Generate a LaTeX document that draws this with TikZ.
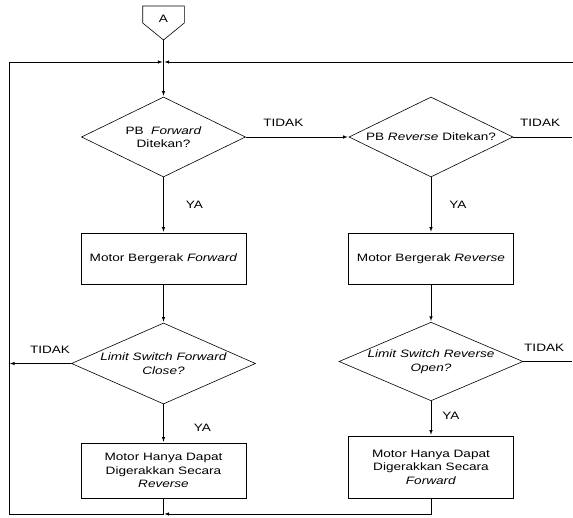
\documentclass[tikz,border=0pt]{standalone}
\usepackage{fontspec}
\setmainfont{Liberation Sans}[FakeStretch=1.27]
\usepackage{tikz}
\usetikzlibrary{shapes.geometric}
\usetikzlibrary{arrows}
\usetikzlibrary{positioning}

\begin{document}
\begin{tikzpicture}[x=1pt,y=-1pt,>=latex,shorten >=1pt,line width=0.6pt,on grid,auto,
	     every node/.style={font=\fontsize{10.7}{13.5}\selectfont},
	     decision/.style={diamond,draw,inner sep=0pt,shape aspect=2.3,align=center},
	     process/.style={rectangle,draw,minimum width=165pt,align=center}]
	     \useasboundingbox (0,0) rectangle (573,518);

	     % konektor A
	     \draw (142.7,6) -- (184.3,6) -- (184.3,23) -- (163.5,40) -- (142.7,23) -- cycle;
	     \node (A) at (163.5,19) {A};
	     \coordinate (Atip) at (163.5,40);

	     \node[decision, minimum width=164pt, minimum height=80pt] (pbf) at (163.5,137) {PB~~\textit{Forward}\\Ditekan?};
	     \node[decision, minimum width=164pt, minimum height=80pt] (pbr) [right=267.5pt of pbf] {PB \textit{Reverse} Ditekan?};
	     \node[process, minimum height=51pt] (motf) [below=121.5pt of pbf] {Motor Bergerak \textit{Forward}};
	     \node[process, minimum height=51pt] (motr) [below=121.5pt of pbr] {Motor Bergerak \textit{Reverse}};
	     \node[decision, minimum width=184pt, minimum height=81pt] (lsf) [below=105pt of motf] {\textit{Limit Switch Forward}\\\textit{Close?}};
	     \node[decision, minimum width=184pt, minimum height=76pt] (lsr) [below=103pt of motr] {\textit{Limit Switch Reverse}\\\textit{Open?}};
	     \node[process, minimum height=55pt] (onlyr) [below=107pt of lsf] {Motor Hanya Dapat\\Digerakkan Secara\\\textit{Reverse}};
	     \node[process, minimum height=62pt] (onlyf) [below=105.5pt of lsr] {Motor Hanya Dapat\\Digerakkan Secara\\\textit{Forward}};

	     \coordinate (merge) at (163.5,62);
	     \coordinate (topL) at (9,62);
	     \coordinate (topR) at (573,62);
	     \coordinate (botL) at (9,514);
	     \coordinate (join) at (163.5,514);
	     \coordinate (outR) at (573,137);
	     \coordinate (outL) at (9,363.5);
	     \coordinate (outR2) at (573,361.5);

	     \path[->]
	       (Atip) edge (pbf)
	       (pbf) edge node[pos=0.365, inner sep=10pt] {TIDAK} (pbr)
	       (pbf) edge node[inner sep=22pt] {YA} (motf)
	       (pbr) edge node[inner sep=18pt] {YA} (motr)
	       (motf) edge (lsf)
	       (motr) edge (lsr)
	       (lsf) edge node[pos=0.34, inner sep=10pt, swap] {TIDAK} (outL)
	       (lsf) edge node[pos=0.6, inner sep=30pt] {YA} (onlyr)
	       (lsr) edge node[pos=0.43, inner sep=11pt] {YA} (onlyf)
	     ;
	     \draw (pbr) -- node[pos=0.45, inner sep=10pt] {TIDAK} (outR);
	     \draw (lsr) -- node[pos=0.42, inner sep=10pt] {TIDAK} (outR2);

	     % kembali ke awal
	     \draw (onlyr) -- (join) -- (botL) -- (topL);
	     \draw[->] (topL) -- (merge);
	     \draw[->] (topR) -- (merge);
	     \draw[->] (onlyf) |- (join);
\end{tikzpicture}
\end{document}
